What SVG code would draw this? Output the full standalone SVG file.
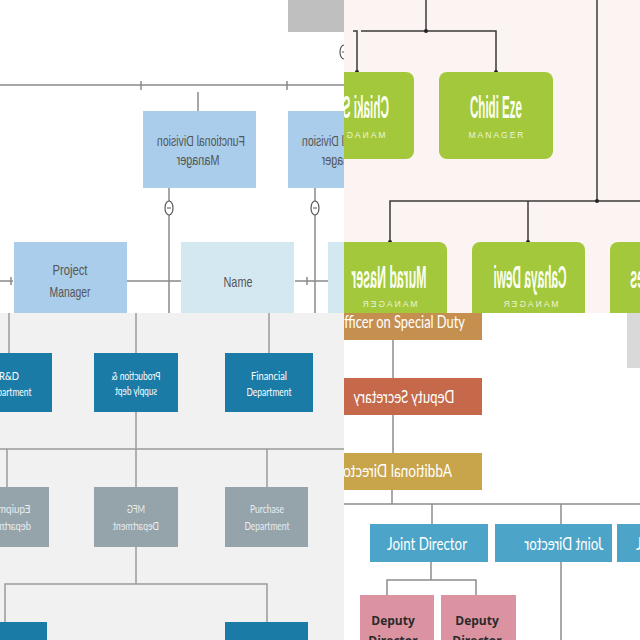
<svg xmlns="http://www.w3.org/2000/svg" width="640" height="640" viewBox="0 0 640 640">
<defs>
<clipPath id="qTL"><rect x="0" y="0" width="344" height="313"/></clipPath>
<clipPath id="qTR"><rect x="344" y="0" width="296" height="313"/></clipPath>
<clipPath id="qBL"><rect x="0" y="313" width="344" height="327"/></clipPath>
<clipPath id="qBR"><rect x="344" y="313" width="296" height="327"/></clipPath>
<style>
.tlLine{stroke:#8a8a8a;stroke-width:1.5;fill:none}
.tlText{font-family:"Liberation Sans Narrow","Liberation Sans",Arial,sans-serif;font-size:15px;fill:#555;text-anchor:middle}
.fdm{fill:#a9cdea}
.nm{fill:#d4e8f2}
.minus{fill:#fff;stroke:#555;stroke-width:1.2}
.trLine{stroke:#3a3a3a;stroke-width:1.5;fill:none}
.dot{fill:#222}
.grn{fill:#a3c83b}
.nameT{font-family:"Liberation Sans Narrow","Liberation Sans",sans-serif;font-size:31px;font-weight:bold;fill:#fbfff0;text-anchor:middle}
.roleT{font-family:"Liberation Sans",sans-serif;font-size:8.5px;letter-spacing:2px;fill:#eef4dc;text-anchor:middle}
.blLine{stroke:#9a9a9a;stroke-width:1.5;fill:none}
.teal{fill:#1b7ba7}
.gbox{fill:#95a3ab}
.blText{font-family:Lato,"Open Sans",sans-serif;font-size:12px;fill:#fff;text-anchor:middle}
.blTextG{font-family:Lato,"Open Sans",sans-serif;font-size:12px;fill:#e9eef0;text-anchor:middle}
.brLine{stroke:#8c8c8c;stroke-width:1.5;fill:none}
.brText{font-family:Lato,"Open Sans",sans-serif;font-size:18px;fill:#fff}
.ddText{font-family:"Open Sans",Lato,sans-serif;font-size:12px;font-weight:bold;fill:#2a2a2a;text-anchor:middle}
</style>
</defs>

<!-- Top-left quadrant -->
<g clip-path="url(#qTL)">
  <rect x="0" y="0" width="344" height="313" fill="#ffffff"/>
  <g id="tl-connectors">
    <line class="tlLine" x1="0" y1="85" x2="344" y2="85"/>
    <line class="tlLine" x1="141" y1="81" x2="141" y2="90" stroke-width="1"/>
    <line class="tlLine" x1="287" y1="81" x2="287" y2="90" stroke-width="1"/>
    <line class="tlLine" x1="198" y1="92" x2="198" y2="111" stroke-width="1"/>
    <line class="tlLine" x1="345" y1="59" x2="345" y2="85" stroke-width="1"/>
    <line class="tlLine" x1="169" y1="188" x2="169" y2="201" stroke-width="1"/>
    <line class="tlLine" x1="169" y1="215" x2="169" y2="313" stroke-width="1"/>
    <line class="tlLine" x1="315" y1="188" x2="315" y2="201" stroke-width="1"/>
    <line class="tlLine" x1="315" y1="215" x2="315" y2="313" stroke-width="1"/>
    <line class="tlLine" x1="0" y1="281" x2="13" y2="281"/>
    <line class="tlLine" x1="11" y1="277" x2="11" y2="285" stroke-width="1"/>
    <line class="tlLine" x1="127" y1="281" x2="181" y2="281"/>
    <line class="tlLine" x1="295" y1="281" x2="328" y2="281"/>
    <line class="tlLine" x1="307" y1="277" x2="307" y2="285" stroke-width="1"/>
    <ellipse class="minus" cx="169" cy="208" rx="4" ry="7"/>
    <line x1="167" y1="208" x2="171" y2="208" stroke="#555" stroke-width="1"/>
    <ellipse class="minus" cx="315" cy="208" rx="4" ry="7"/>
    <line x1="313" y1="208" x2="317" y2="208" stroke="#555" stroke-width="1"/>
    <ellipse class="minus" cx="344" cy="52" rx="4" ry="7"/>
    <line x1="342" y1="52" x2="346" y2="52" stroke="#555" stroke-width="1"/>
  </g>
  <g id="tl-top-box"><rect x="288" y="0" width="80" height="32" fill="#bfbfbf"/></g>
  <g id="fdm1">
    <rect class="fdm" x="143" y="111" width="113" height="77"/>
    <g transform="translate(201,0) scale(-1,1)">
      <text class="tlText" x="0" y="146" textLength="88" lengthAdjust="spacingAndGlyphs">Functional Division</text>
      <text class="tlText" x="3" y="165" textLength="43" lengthAdjust="spacingAndGlyphs">Manager</text>
    </g>
  </g>
  <g id="fdm2">
    <rect class="fdm" x="288" y="111" width="113" height="77"/>
    <g transform="translate(346,0) scale(-1,1)">
      <text class="tlText" x="0" y="146" textLength="88" lengthAdjust="spacingAndGlyphs">Functional Division</text>
      <text class="tlText" x="3" y="165" textLength="43" lengthAdjust="spacingAndGlyphs">Manager</text>
    </g>
  </g>
  <g id="pm">
    <rect class="fdm" x="14" y="242" width="113" height="75"/>
    <text class="tlText" x="70" y="275" textLength="35" lengthAdjust="spacingAndGlyphs">Project</text>
    <text class="tlText" x="70" y="297" textLength="41" lengthAdjust="spacingAndGlyphs">Manager</text>
  </g>
  <g id="name1">
    <rect class="nm" x="181" y="242" width="113" height="75"/>
    <text class="tlText" x="238" y="287" textLength="29" lengthAdjust="spacingAndGlyphs">Name</text>
  </g>
  <g id="name2"><rect class="nm" x="328" y="242" width="113" height="75"/></g>
</g>

<!-- Top-right quadrant -->
<g clip-path="url(#qTR)">
  <rect x="344" y="0" width="296" height="313" fill="#fcf4f2"/>
  <g id="tr-connectors">
    <line class="trLine" x1="426" y1="0" x2="426" y2="31"/>
    <polyline class="trLine" points="357,72 357,31 353,31"/>
    <polyline class="trLine" points="361,31 496,31 496,72"/>
    <circle class="dot" cx="426" cy="31" r="2"/>
    <circle class="dot" cx="357" cy="72" r="2"/>
    <circle class="dot" cx="496" cy="72" r="2"/>
    <line class="trLine" x1="597" y1="0" x2="597" y2="201"/>
    <polyline class="trLine" points="390,242 390,201 640,201"/>
    <line class="trLine" x1="528" y1="201" x2="528" y2="242"/>
    <circle class="dot" cx="597" cy="201" r="2"/>
    <circle class="dot" cx="390" cy="242" r="2"/>
    <circle class="dot" cx="528" cy="242" r="2"/>
  </g>
  <g id="chiaki">
    <rect class="grn" x="300" y="72" width="114" height="87" rx="8"/>
    <g transform="translate(357,0) scale(-1,1)">
      <text class="nameT" x="0" y="118" textLength="64" lengthAdjust="spacingAndGlyphs">Chiaki Sato</text>
      <text class="roleT" x="0" y="138">MANAGER</text>
    </g>
  </g>
  <g id="chidi">
    <rect class="grn" x="439" y="72" width="114" height="87" rx="8"/>
    <text class="nameT" x="496" y="118" textLength="52" lengthAdjust="spacingAndGlyphs">Chidi Eze</text>
    <text class="roleT" x="497" y="138">MANAGER</text>
  </g>
  <g id="murad">
    <rect class="grn" x="333" y="242" width="114" height="87" rx="8"/>
    <g transform="translate(389,0) scale(-1,1)">
      <text class="nameT" x="0" y="288" textLength="75" lengthAdjust="spacingAndGlyphs">Murad Naser</text>
      <text class="roleT" x="0" y="307">MANAGER</text>
    </g>
  </g>
  <g id="cahaya">
    <rect class="grn" x="472" y="242" width="113" height="87" rx="8"/>
    <g transform="translate(530,0) scale(-1,1)">
      <text class="nameT" x="0" y="288" textLength="73" lengthAdjust="spacingAndGlyphs">Cahaya Dewi</text>
      <text class="roleT" x="0" y="307">MANAGER</text>
    </g>
  </g>
  <g id="gr5">
    <rect class="grn" x="610" y="242" width="114" height="87" rx="8"/>
    <g transform="translate(667,0) scale(-1,1)">
      <text class="nameT" x="0" y="288" textLength="74" lengthAdjust="spacingAndGlyphs">Pedro Alves</text>
    </g>
  </g>
</g>

<!-- Bottom-left quadrant -->
<g clip-path="url(#qBL)">
  <rect x="0" y="313" width="344" height="327" fill="#f1f1f1"/>
  <g id="bl-connectors">
    <line class="blLine" x1="9" y1="313" x2="9" y2="353"/>
    <line class="blLine" x1="136" y1="313" x2="136" y2="353"/>
    <line class="blLine" x1="269" y1="313" x2="269" y2="353"/>
    <line class="blLine" x1="136" y1="412" x2="136" y2="449"/>
    <line class="blLine" x1="0" y1="449" x2="344" y2="449"/>
    <line class="blLine" x1="7" y1="449" x2="7" y2="487"/>
    <line class="blLine" x1="136" y1="449" x2="136" y2="487"/>
    <line class="blLine" x1="267" y1="449" x2="267" y2="487"/>
    <line class="blLine" x1="136" y1="547" x2="136" y2="584"/>
    <polyline class="blLine" points="5,622 5,584 267,584 267,622"/>
  </g>
  <g id="rd">
    <rect class="teal" x="-34" y="353" width="86" height="59"/>
    <text class="blText" x="9" y="380" textLength="20" lengthAdjust="spacingAndGlyphs">R&amp;D</text>
    <text class="blText" x="9" y="396" textLength="45" lengthAdjust="spacingAndGlyphs">Department</text>
  </g>
  <g id="prod">
    <rect class="teal" x="94" y="353" width="84" height="59"/>
    <g transform="translate(136,0) scale(-1,1)">
      <text class="blText" x="0" y="380" textLength="49" lengthAdjust="spacingAndGlyphs">Production &amp;</text>
      <text class="blText" x="0" y="395" textLength="42" lengthAdjust="spacingAndGlyphs">supply dept</text>
    </g>
  </g>
  <g id="fin">
    <rect class="teal" x="225" y="353" width="88" height="59"/>
    <text class="blText" x="269" y="380" textLength="36" lengthAdjust="spacingAndGlyphs">Financial</text>
    <text class="blText" x="269" y="396" textLength="45" lengthAdjust="spacingAndGlyphs">Department</text>
  </g>
  <g id="equip">
    <rect class="gbox" x="-35" y="487" width="84" height="60"/>
    <g transform="translate(7,0) scale(-1,1)">
      <text class="blTextG" x="0" y="513" textLength="47" lengthAdjust="spacingAndGlyphs">Equipment</text>
      <text class="blTextG" x="0" y="530" textLength="48" lengthAdjust="spacingAndGlyphs">department</text>
    </g>
  </g>
  <g id="mfg">
    <rect class="gbox" x="94" y="487" width="84" height="60"/>
    <g transform="translate(136,0) scale(-1,1)">
      <text class="blTextG" x="0" y="513" textLength="18" lengthAdjust="spacingAndGlyphs">MFG</text>
      <text class="blTextG" x="0" y="530" textLength="46" lengthAdjust="spacingAndGlyphs">Department</text>
    </g>
  </g>
  <g id="purch">
    <rect class="gbox" x="225" y="487" width="83" height="60"/>
    <text class="blTextG" x="267" y="513" textLength="34" lengthAdjust="spacingAndGlyphs">Purchase</text>
    <text class="blTextG" x="267" y="530" textLength="45" lengthAdjust="spacingAndGlyphs">Department</text>
  </g>
  <g id="bl-b1"><rect class="teal" x="-37" y="622" width="84" height="40"/></g>
  <g id="bl-b2"><rect class="teal" x="225" y="622" width="83" height="40"/></g>
</g>

<!-- Bottom-right quadrant -->
<g clip-path="url(#qBR)">
  <rect x="344" y="313" width="296" height="327" fill="#ffffff"/>
  <g id="br-connectors">
    <line class="brLine" x1="393" y1="340" x2="393" y2="378"/>
    <line class="brLine" x1="393" y1="415" x2="393" y2="453"/>
    <line class="brLine" x1="392" y1="490" x2="392" y2="504"/>
    <line class="brLine" x1="344" y1="504" x2="640" y2="504"/>
    <line class="brLine" x1="432" y1="504" x2="432" y2="524"/>
    <line class="brLine" x1="561" y1="504" x2="561" y2="524"/>
    <line class="brLine" x1="431" y1="562" x2="431" y2="580"/>
    <polyline class="brLine" points="387,595 387,580 476,580 476,595"/>
    <line class="brLine" x1="561" y1="562" x2="561" y2="640"/>
  </g>
  <g id="gray-r"><rect x="627" y="300" width="30" height="68" fill="#d9d9d9"/></g>
  <g id="osd">
    <rect x="300" y="300" width="182" height="40" fill="#c58f4f"/>
    <text class="brText" x="334" y="328" textLength="131" lengthAdjust="spacingAndGlyphs">Officer on Special Duty</text>
  </g>
  <g id="depsec">
    <rect x="320" y="378" width="162" height="37" fill="#c5694a"/>
    <g transform="translate(404,0) scale(-1,1)">
      <text class="brText" x="0" y="403" text-anchor="middle" textLength="101" lengthAdjust="spacingAndGlyphs">Deputy Secretary</text>
    </g>
  </g>
  <g id="adddir">
    <rect x="300" y="453" width="182" height="37" fill="#c8a44b"/>
    <g transform="translate(452,0) scale(-1,1)">
      <text class="brText" x="0" y="477" textLength="114" lengthAdjust="spacingAndGlyphs">Additional Director</text>
    </g>
  </g>
  <g id="jd1">
    <rect x="370" y="524" width="118" height="38" fill="#4ca5c9"/>
    <text class="brText" x="427" y="550" text-anchor="middle" textLength="80" lengthAdjust="spacingAndGlyphs">Joint Director</text>
  </g>
  <g id="jd2">
    <rect x="495" y="524" width="117" height="38" fill="#4ca5c9"/>
    <g transform="translate(564,0) scale(-1,1)">
      <text class="brText" x="0" y="550" text-anchor="middle" textLength="79" lengthAdjust="spacingAndGlyphs">Joint Director</text>
    </g>
  </g>
  <g id="jd3">
    <rect x="617" y="524" width="118" height="38" fill="#4ca5c9"/>
    <text class="brText" x="636" y="550" textLength="80" lengthAdjust="spacingAndGlyphs">Joint Director</text>
  </g>
  <g id="dd1">
    <rect x="360" y="595" width="74" height="60" fill="#dc93a1"/>
    <text class="ddText" x="393" y="625">Deputy</text>
    <text class="ddText" x="393" y="645">Director</text>
  </g>
  <g id="dd2">
    <rect x="441" y="595" width="75" height="60" fill="#dc93a1"/>
    <text class="ddText" x="477" y="625">Deputy</text>
    <text class="ddText" x="477" y="645">Director</text>
  </g>
</g>
</svg>
